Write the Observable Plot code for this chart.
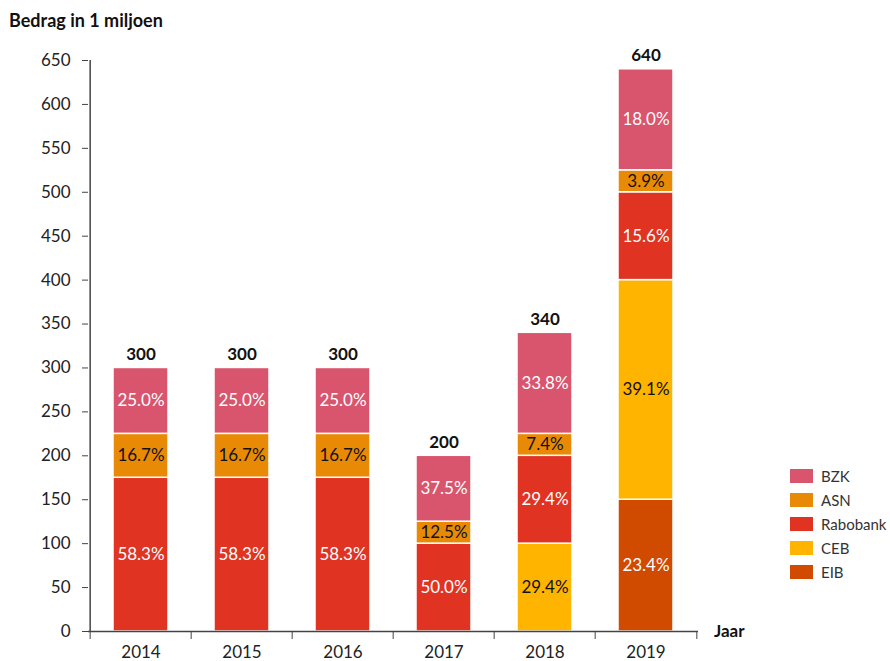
<!DOCTYPE html>
<html><head><meta charset="utf-8">
<script src="https://cdn.jsdelivr.net/npm/d3@7"></script>
<script src="https://cdn.jsdelivr.net/npm/@observablehq/plot@0.6"></script>
<style>
body{margin:0;background:#fff;font-family:Lato,sans-serif;}
#wrap{position:relative;width:890px;height:661px;overflow:hidden;}
#chart{position:absolute;left:0;top:0;}
#title{position:absolute;left:9px;top:11px;font-weight:bold;font-size:18px;line-height:18px;color:#111;white-space:nowrap;}
#jaar{position:absolute;left:714px;top:622px;font-weight:bold;font-size:17px;line-height:17px;color:#111;}
#legend{position:absolute;left:790px;top:464px;font-size:15px;color:#333;}
.li{display:flex;align-items:center;height:24px;}
.sw{width:23px;height:14px;margin-right:8px;}
</style></head>
<body>
<div id="wrap">
  <div id="chart"></div>
  <div id="title">Bedrag in 1 miljoen</div>
  <div id="jaar">Jaar</div>
  <div id="legend"></div>
</div>
<script>
// ---- data ----
const years = ["2014", "2015", "2016", "2017", "2018", "2019"];
const stackOrder = ["EIB", "CEB", "Rabobank", "ASN", "BZK"]; // bottom to top
const legendOrder = ["BZK", "ASN", "Rabobank", "CEB", "EIB"];
const EIB      = [0, 0, 0, 0, 0, 150];
const CEB      = [0, 0, 0, 0, 100, 250];
const Rabobank = [175, 175, 175, 100, 100, 100];
const ASN      = [50, 50, 50, 25, 25, 25];
const BZK      = [75, 75, 75, 75, 115, 115];
const yTicks = [0, 50, 100, 150, 200, 250, 300, 350, 400, 450, 500, 550, 600, 650];

const seriesValues = {EIB, CEB, Rabobank, ASN, BZK};
const fillColors = {BZK: "#d9546d", ASN: "#e98a06", Rabobank: "#e03322", CEB: "#ffb400", EIB: "#d04a00"};
const labelColors = {BZK: "#ffffff", ASN: "#111111", Rabobank: "#ffffff", CEB: "#111111", EIB: "#ffffff"};

const totals = years.map((y, i) => ({year: y, total: stackOrder.reduce((s, k) => s + seriesValues[k][i], 0)}));
const rows = [];
stackOrder.forEach(k => years.forEach((y, i) => {
  const v = seriesValues[k][i];
  if (v > 0) rows.push({year: y, series: k, value: v, pct: (v / totals[i].total * 100).toFixed(1) + "%"});
}));

// ---- layout ----
const W = 890, H = 661, ML = 88, MR = 192, MT = 60, MB = 30;
const step = (W - ML - MR) / years.length;

const chart = Plot.plot({
  width: W, height: H,
  marginTop: MT, marginBottom: MB, marginLeft: ML, marginRight: MR,
  style: {fontFamily: "Lato, sans-serif", fontSize: "17px", color: "#222", background: "#fff"},
  x: {domain: years, paddingInner: 0.46, paddingOuter: 0.23, label: null, axis: null},
  y: {domain: [0, 650], label: null, axis: null},
  color: {type: "identity"},
  marks: [
    Plot.barY(rows, {x: "year", y: "value", z: "series", order: stackOrder, fill: d => fillColors[d.series], stroke: "#fff", strokeWidth: 1.5}),
    Plot.text(rows, Plot.stackY({x: "year", y: "value", z: "series", order: stackOrder, text: "pct", fill: d => labelColors[d.series], fontSize: 17})),
    Plot.text(totals, {x: "year", y: "total", text: d => String(d.total), dy: -8, lineAnchor: "bottom", fontWeight: "bold", fontSize: 17, fill: "#111"}),
    Plot.axisY({ticks: yTicks, tickSize: 6, tickPadding: 12, fontSize: 17, label: null, stroke: "#444", color: "#222"}),
    Plot.ruleX([years[0]], {dx: -step / 2, y1: 0, y2: 650, stroke: "#444", strokeWidth: 1.5}),
    Plot.ruleY([0], {stroke: "#444", strokeWidth: 1.5}),
    Plot.axisX(years, {tickSize: 8, tickFormat: () => "", dx: -step / 2, label: null, stroke: "#444"}),
    Plot.axisX([years[years.length - 1]], {tickSize: 8, tickFormat: () => "", dx: step / 2, label: null, stroke: "#444"}),
    Plot.axisX({tickSize: 0, tickPadding: 14, fontSize: 17, label: null, color: "#222"})
  ]
});
document.getElementById("chart").appendChild(chart);

const leg = document.getElementById("legend");
legendOrder.forEach(k => {
  const row = document.createElement("div");
  row.className = "li";
  const sw = document.createElement("div");
  sw.className = "sw";
  sw.style.background = fillColors[k];
  const t = document.createElement("span");
  t.textContent = k;
  row.appendChild(sw); row.appendChild(t);
  leg.appendChild(row);
});
</script>
</body></html>
